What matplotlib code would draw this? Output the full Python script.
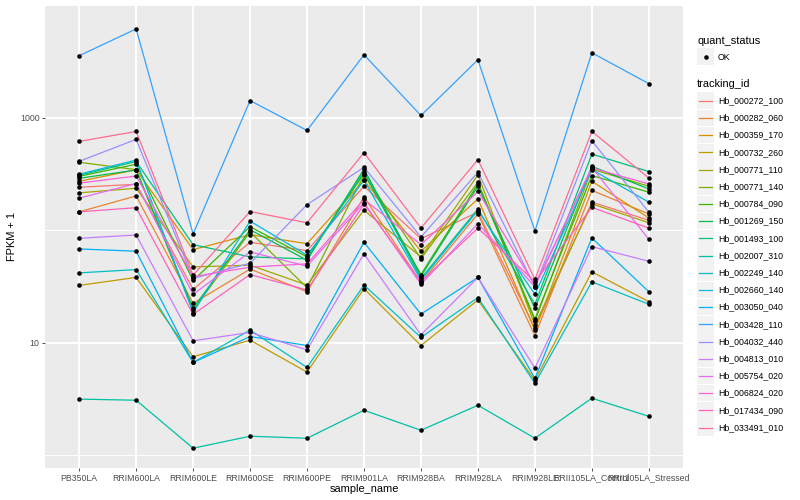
import numpy as np
import matplotlib
matplotlib.use("Agg")
import matplotlib.pyplot as plt
from matplotlib.lines import Line2D
from matplotlib.patches import Rectangle

plt.rcParams['font.family'] = ['Liberation Sans', 'DejaVu Sans']

sample_name = ["PB350LA", "RRIM600LA", "RRIM600LE", "RRIM600SE", "RRIM600PE",
               "RRIM901LA", "RRIM928BA", "RRIM928LA", "RRIM928LE",
               "RRII105LA_Control", "RRII105LA_Stressed"]

tracking_id = ["Hb_000272_100", "Hb_000282_060", "Hb_000359_170", "Hb_000732_260",
               "Hb_000771_110", "Hb_000771_140", "Hb_000784_090", "Hb_001269_150",
               "Hb_001493_100", "Hb_002007_310", "Hb_002249_140", "Hb_002660_140",
               "Hb_003050_040", "Hb_003428_110", "Hb_004032_440", "Hb_004813_010",
               "Hb_005754_020", "Hb_006824_020", "Hb_017434_090", "Hb_033491_010"]

# FPKM + 1, one list per gene, in sample_name order
hb_000272_100 = [240, 255, 29.7, 77.8, 65.6, 245, 83.8, 144, 13.4, 177, 122]
hb_000282_060 = [145, 201, 22.3, 44.9, 28.3, 197, 34.2, 139, 11.5, 225, 139]
hb_000359_170 = [271, 343, 67.0, 90.9, 75.6, 277, 64.8, 189, 12.9, 271, 128]
hb_000732_260 = [32.2, 37.9, 7.47, 10.5, 5.46, 30.1, 9.41, 23.9, 4.61, 42.5, 23.1]
hb_000771_110 = [214, 235, 47.0, 48.7, 32.4, 150, 57.7, 309, 14.3, 171, 116]
hb_000771_140 = [400, 344, 19.3, 96, 30.7, 309, 55.7, 266, 15.5, 347, 245]
hb_000784_090 = [300, 384, 35.6, 107, 57.7, 317, 40.2, 257, 16.2, 305, 217]
hb_001269_150 = [288, 342, 20.1, 100.6, 53.9, 349, 38.9, 245, 20.1, 368, 232]
hb_001493_100 = [307, 406, 74.1, 57.7, 55.4, 331, 37.1, 154, 21.9, 473, 331]
hb_002007_310 = [3.14, 3.07, 1.15, 1.47, 1.41, 2.50, 1.66, 2.77, 1.41, 3.20, 2.21]
hb_002249_140 = [41.6, 44.5, 6.65, 12.9, 6.01, 32.4, 11.1, 25.1, 4.34, 34.6, 21.9]
hb_002660_140 = [313, 419, 18.4, 120, 59.7, 277, 35.9, 149, 26.8, 344, 177]
hb_003050_040 = [67.9, 64.8, 6.65, 11.3, 9.41, 77.8, 17.9, 37.9, 4.80, 85.0, 28.3]
hb_003428_110 = [3540, 6130, 92.2, 1414, 767, 3610, 1042, 3260, 98, 3760, 2000]
hb_004032_440 = [408, 639, 37.1, 50.7, 168, 361, 86.7, 326, 31.3, 622, 144]
hb_004813_010 = [84.4, 90.3, 10.35, 12.3, 8.61, 61.3, 11.7, 37.9, 5.93, 71.2, 52.8]
hb_005754_020 = [192, 259, 26.8, 63.9, 47.7, 175, 32.9, 114, 31.3, 361, 82.7]
hb_006824_020 = [261, 302, 38.4, 46.8, 50.0, 187, 74.1, 220, 32.4, 356, 257]
hb_017434_090 = [145, 158, 17.8, 40.2, 29.3, 170, 34.7, 104, 34.7, 159, 104]
hb_033491_010 = [613, 752, 39.7, 146, 116, 487, 104, 422, 36.4, 752, 290]

series = [hb_000272_100, hb_000282_060, hb_000359_170, hb_000732_260, hb_000771_110,
          hb_000771_140, hb_000784_090, hb_001269_150, hb_001493_100, hb_002007_310,
          hb_002249_140, hb_002660_140, hb_003050_040, hb_003428_110, hb_004032_440,
          hb_004813_010, hb_005754_020, hb_006824_020, hb_017434_090, hb_033491_010]

# ggplot2 hue palette, 20 levels
colores = ["#F8766D", "#EA8331", "#D89000", "#C09B00", "#A3A500", "#7CAE00", "#39B600",
           "#00BB4E", "#00BF7D", "#00C1A3", "#00BFC4", "#00BAE0", "#00B0F6", "#35A2FF",
           "#9590FF", "#C77CFF", "#E76BF3", "#FA62DB", "#FF62BC", "#FF6C91"]

W, H = 800, 500
fig = plt.figure(figsize=(W / 100, H / 100), dpi=100)
ax = fig.add_axes([45 / W, 1 - 468 / H, (683 - 45) / W, (468 - 5) / H])
ax.set_facecolor("#EBEBEB")
for s in ax.spines.values():
    s.set_visible(False)

x = np.arange(len(sample_name))
for vals, col in zip(series, colores):
    ax.plot(x, vals, color=col, lw=0.9, zorder=3, solid_capstyle="butt")
for vals in series:
    ax.plot(x, vals, "o", color="black", ms=3.3, zorder=4, markeredgewidth=0)

ax.set_yscale("log")
ax.set_ylim(0.767, 9400)
ax.set_xlim(-0.6, len(sample_name) - 0.4)
ax.set_yticks([10, 1000])
ax.set_yticklabels(["10", "1000"])
ax.set_yticks([1, 100, 10000], minor=True)
ax.yaxis.set_minor_formatter(matplotlib.ticker.NullFormatter())
ax.set_xticks(x)
ax.set_xticklabels(sample_name)

ax.grid(which="major", color="white", lw=1.4, zorder=1)
ax.grid(which="minor", axis="y", color="white", lw=0.7, zorder=1)
ax.set_axisbelow(True)
ax.tick_params(which="major", length=2.5, width=0.6, color="#333333",
               labelcolor="#4D4D4D", labelsize=6.3, pad=1.5)
ax.tick_params(which="minor", length=0)

ax.set_xlabel("sample_name", fontsize=7.9, labelpad=1)
ax.set_ylabel("FPKM + 1", fontsize=7.9, labelpad=2)

# legends, drawn by hand in pixel positions
def px(xp, yp):
    return xp / W, 1 - yp / H

fig.text(*px(697, 41), "quant_status", fontsize=7.9, va="center", ha="left")
fig.add_artist(Rectangle(px(697, 65), 17 / W, 17 / H, transform=fig.transFigure,
                         facecolor="#F2F2F2", edgecolor="none"))
fig.add_artist(Line2D([705.5 / W], [1 - 57 / H], marker="o", color="black", ms=3.3,
                      markeredgewidth=0, transform=fig.transFigure))
fig.text(*px(718, 57), "OK", fontsize=6.3, va="center", ha="left")

fig.text(*px(697, 84), "tracking_id", fontsize=7.9, va="center", ha="left")
for i, (nombre, col) in enumerate(zip(tracking_id, colores)):
    yc = 100.7 + i * 17.2
    fig.add_artist(Rectangle(px(697, yc + 8.3), 17 / W, 16.6 / H, transform=fig.transFigure,
                             facecolor="#F2F2F2", edgecolor="none"))
    fig.add_artist(Line2D([699 / W, 712 / W], [1 - yc / H, 1 - yc / H], color=col, lw=0.9,
                          transform=fig.transFigure))
    fig.text(*px(718, yc), nombre, fontsize=6.3, va="center", ha="left")

fig.savefig("out.png", dpi=100)
